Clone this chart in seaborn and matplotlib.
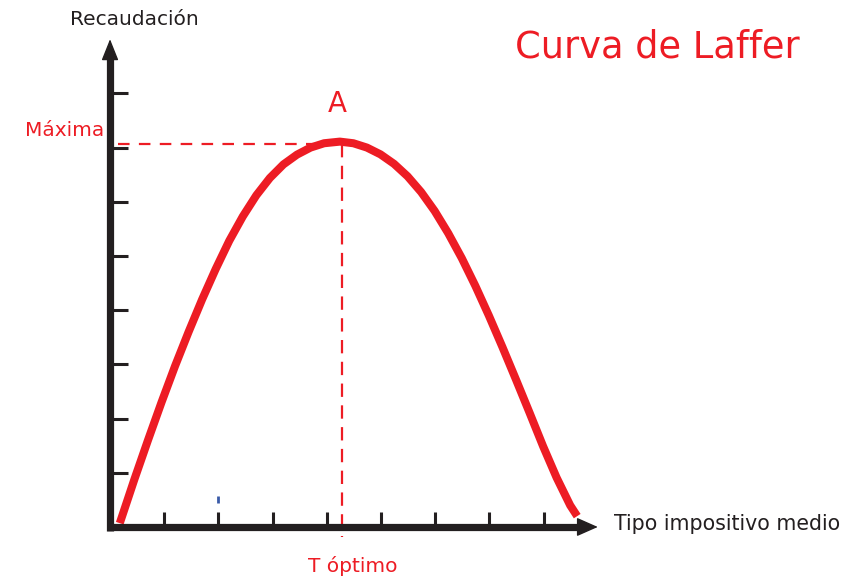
import matplotlib
matplotlib.use("Agg")
import matplotlib.pyplot as plt
import seaborn as sns
import pandas as pd

# ---- data ----
tax_rate = [0.18, 0.45, 0.70, 0.95, 1.20, 1.45, 1.70, 1.95, 2.20, 2.45, 2.70, 2.95,
            3.20, 3.45, 3.70, 3.95, 4.24, 4.49, 4.74, 4.99, 5.24, 5.49, 5.74, 5.99,
            6.24, 6.49, 6.74, 6.99, 7.24, 7.49, 7.74, 7.99, 8.24, 8.49, 8.62]
revenue = [0.07, 0.88, 1.60, 2.30, 2.97, 3.60, 4.20, 4.76, 5.28, 5.73, 6.12, 6.44,
           6.69, 6.87, 7.00, 7.08, 7.11, 7.08, 7.00, 6.875, 6.70, 6.47, 6.18, 5.83,
           5.42, 4.96, 4.45, 3.90, 3.32, 2.72, 2.11, 1.49, 0.91, 0.40, 0.20]
x_ticks = [1, 2, 3, 4, 5, 6, 7, 8]
y_ticks = [1, 2, 3, 4, 5, 6, 7, 8]
t_optimo = 4.28
max_rev = 7.07
title = "Curva de Laffer"
x_label = "Tipo impositivo medio"
y_label = "Recaudación"
max_label = "Máxima"
opt_label = "T óptimo"
point_label = "A"

RED = "#ed1c24"
DARK = "#231f20"
BLUE = "#3a5ba8"

sns.set_style("white")
plt.rcParams["font.family"] = ["DejaVu Sans"]

fig = plt.figure(figsize=(8.65, 5.77), dpi=100)
ax = fig.add_axes([0, 0, 1, 1])
ax.set_xlim(-2.03, 13.93)
ax.set_ylim(-0.923, 9.723)

df = pd.DataFrame({"tipo": tax_rate, "recaudacion": revenue})
sns.lineplot(data=df, x="tipo", y="recaudacion", sort=False, color=RED, lw=5.8,
             ax=ax, solid_capstyle="butt", solid_joinstyle="round")

# dashed guides
ax.plot([0.15, t_optimo], [max_rev, max_rev], color=RED, lw=1.6, dashes=(5.2, 4.2))
ax.plot([t_optimo, t_optimo], [max_rev, -0.19], color=RED, lw=1.6, dashes=(6.0, 3.8))

# axes spines
for side in ["top", "right"]:
    ax.spines[side].set_visible(False)
for side in ["left", "bottom"]:
    ax.spines[side].set_position(("data", 0))
    ax.spines[side].set_linewidth(5.2)
    ax.spines[side].set_color(DARK)
    ax.spines[side].set_capstyle("butt")
ax.spines["left"].set_bounds(-0.08, 8.65)
ax.spines["bottom"].set_bounds(-0.05, 8.65)

ax.annotate("", xy=(9.0, 0), xytext=(8.55, 0),
            arrowprops=dict(arrowstyle="-|>,head_length=0.95,head_width=0.42",
                            fc=DARK, ec=DARK, lw=1, mutation_scale=14,
                            shrinkA=0, shrinkB=0))
ax.annotate("", xy=(0, 9.0), xytext=(0, 8.55),
            arrowprops=dict(arrowstyle="-|>,head_length=0.95,head_width=0.38",
                            fc=DARK, ec=DARK, lw=1, mutation_scale=14,
                            shrinkA=0, shrinkB=0))

ax.set_xticks(x_ticks)
ax.set_yticks(y_ticks)
ax.tick_params(axis="x", direction="in", length=10.5, width=2.2, color=DARK,
               labelbottom=False, bottom=True)
ax.tick_params(axis="y", direction="in", length=13, width=2.2, color=DARK,
               labelleft=False, left=True)
ax.xaxis.get_major_ticks()[1].tick1line.set_color(BLUE)
ax.plot([2, 2], [0.45, 0.57], color=BLUE, lw=2.0, solid_capstyle="butt")
ax.grid(False)
ax.set_xlabel("")
ax.set_ylabel("")

# texts
ax.text(0.45, 9.36, y_label, ha="center", va="center", fontsize=14.5, color=DARK)
ax.text(9.30, 0.06, x_label, ha="left", va="center", fontsize=14.8, color=DARK)
ax.text(-0.11, 7.32, max_label, ha="right", va="center", fontsize=14.5, color=RED)
ax.text(4.47, -0.72, opt_label, ha="center", va="center", fontsize=14.5, color=RED)
ax.text(4.2, 7.8, point_label, ha="center", va="center", fontsize=20, color=RED)
ax.text(10.09, 8.85, title, ha="center", va="center", fontsize=26.5, color=RED)

fig.savefig("out.png", dpi=100)
